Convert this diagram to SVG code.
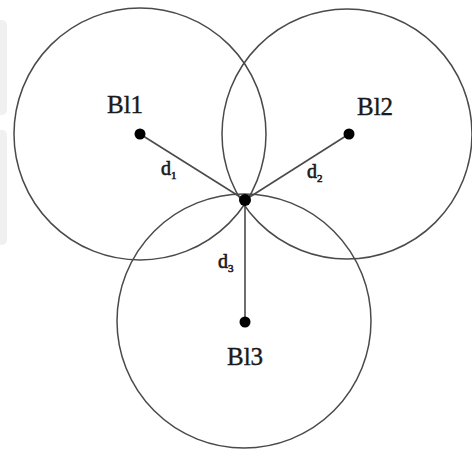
<svg xmlns="http://www.w3.org/2000/svg" width="472" height="456" viewBox="0 0 472 456">
<style>
.c{fill:none;stroke:#4a4a4a;stroke-width:1.5}
.e{stroke:#4a4a4a;stroke-width:1.6}
.dot{fill:#000}
.lbl{font-family:"Liberation Serif",serif;font-size:25px;fill:#1a1a1a;stroke:#1a1a1a;stroke-width:0.4}
.d{font-family:"Liberation Serif",serif;font-size:20px;fill:#1a1a1a;stroke:#1a1a1a;stroke-width:0.6}
.s{font-size:11px}
</style>
<rect width="472" height="456" fill="#fff"/>
<rect x="-6" y="20" width="13" height="95" rx="5" fill="#f0f0f0"/>
<rect x="-6" y="130" width="13" height="115" rx="5" fill="#f0f0f0"/>
<g id="circles">
<circle class="c" cx="140" cy="134" r="126"/>
<circle class="c" cx="347" cy="134" r="125"/>
<circle class="c" cx="244" cy="321" r="127"/>
</g>
<g id="connectors">
<line class="e" x1="140" y1="134" x2="245" y2="200"/>
<line class="e" x1="349" y1="134" x2="245" y2="200"/>
<line class="e" x1="245" y1="322" x2="245" y2="200"/>
</g>
<g id="bs1"><circle class="dot" cx="140" cy="134" r="5.5"/><text class="lbl" x="107" y="113">Bl1</text></g>
<g id="bs2"><circle class="dot" cx="349" cy="134" r="5.5"/><text class="lbl" x="357" y="115">Bl2</text></g>
<g id="bs3"><circle class="dot" cx="245" cy="322" r="5.5"/><text class="lbl" x="227" y="365">Bl3</text></g>
<g id="mobile"><circle class="dot" cx="245" cy="200" r="6"/></g>
<g id="labels">
<text class="d" x="161" y="175">d<tspan class="s" dy="4">1</tspan></text>
<text class="d" x="307" y="178">d<tspan class="s" dy="4">2</tspan></text>
<text class="d" x="218" y="268">d<tspan class="s" dy="4">3</tspan></text>
</g>
</svg>
